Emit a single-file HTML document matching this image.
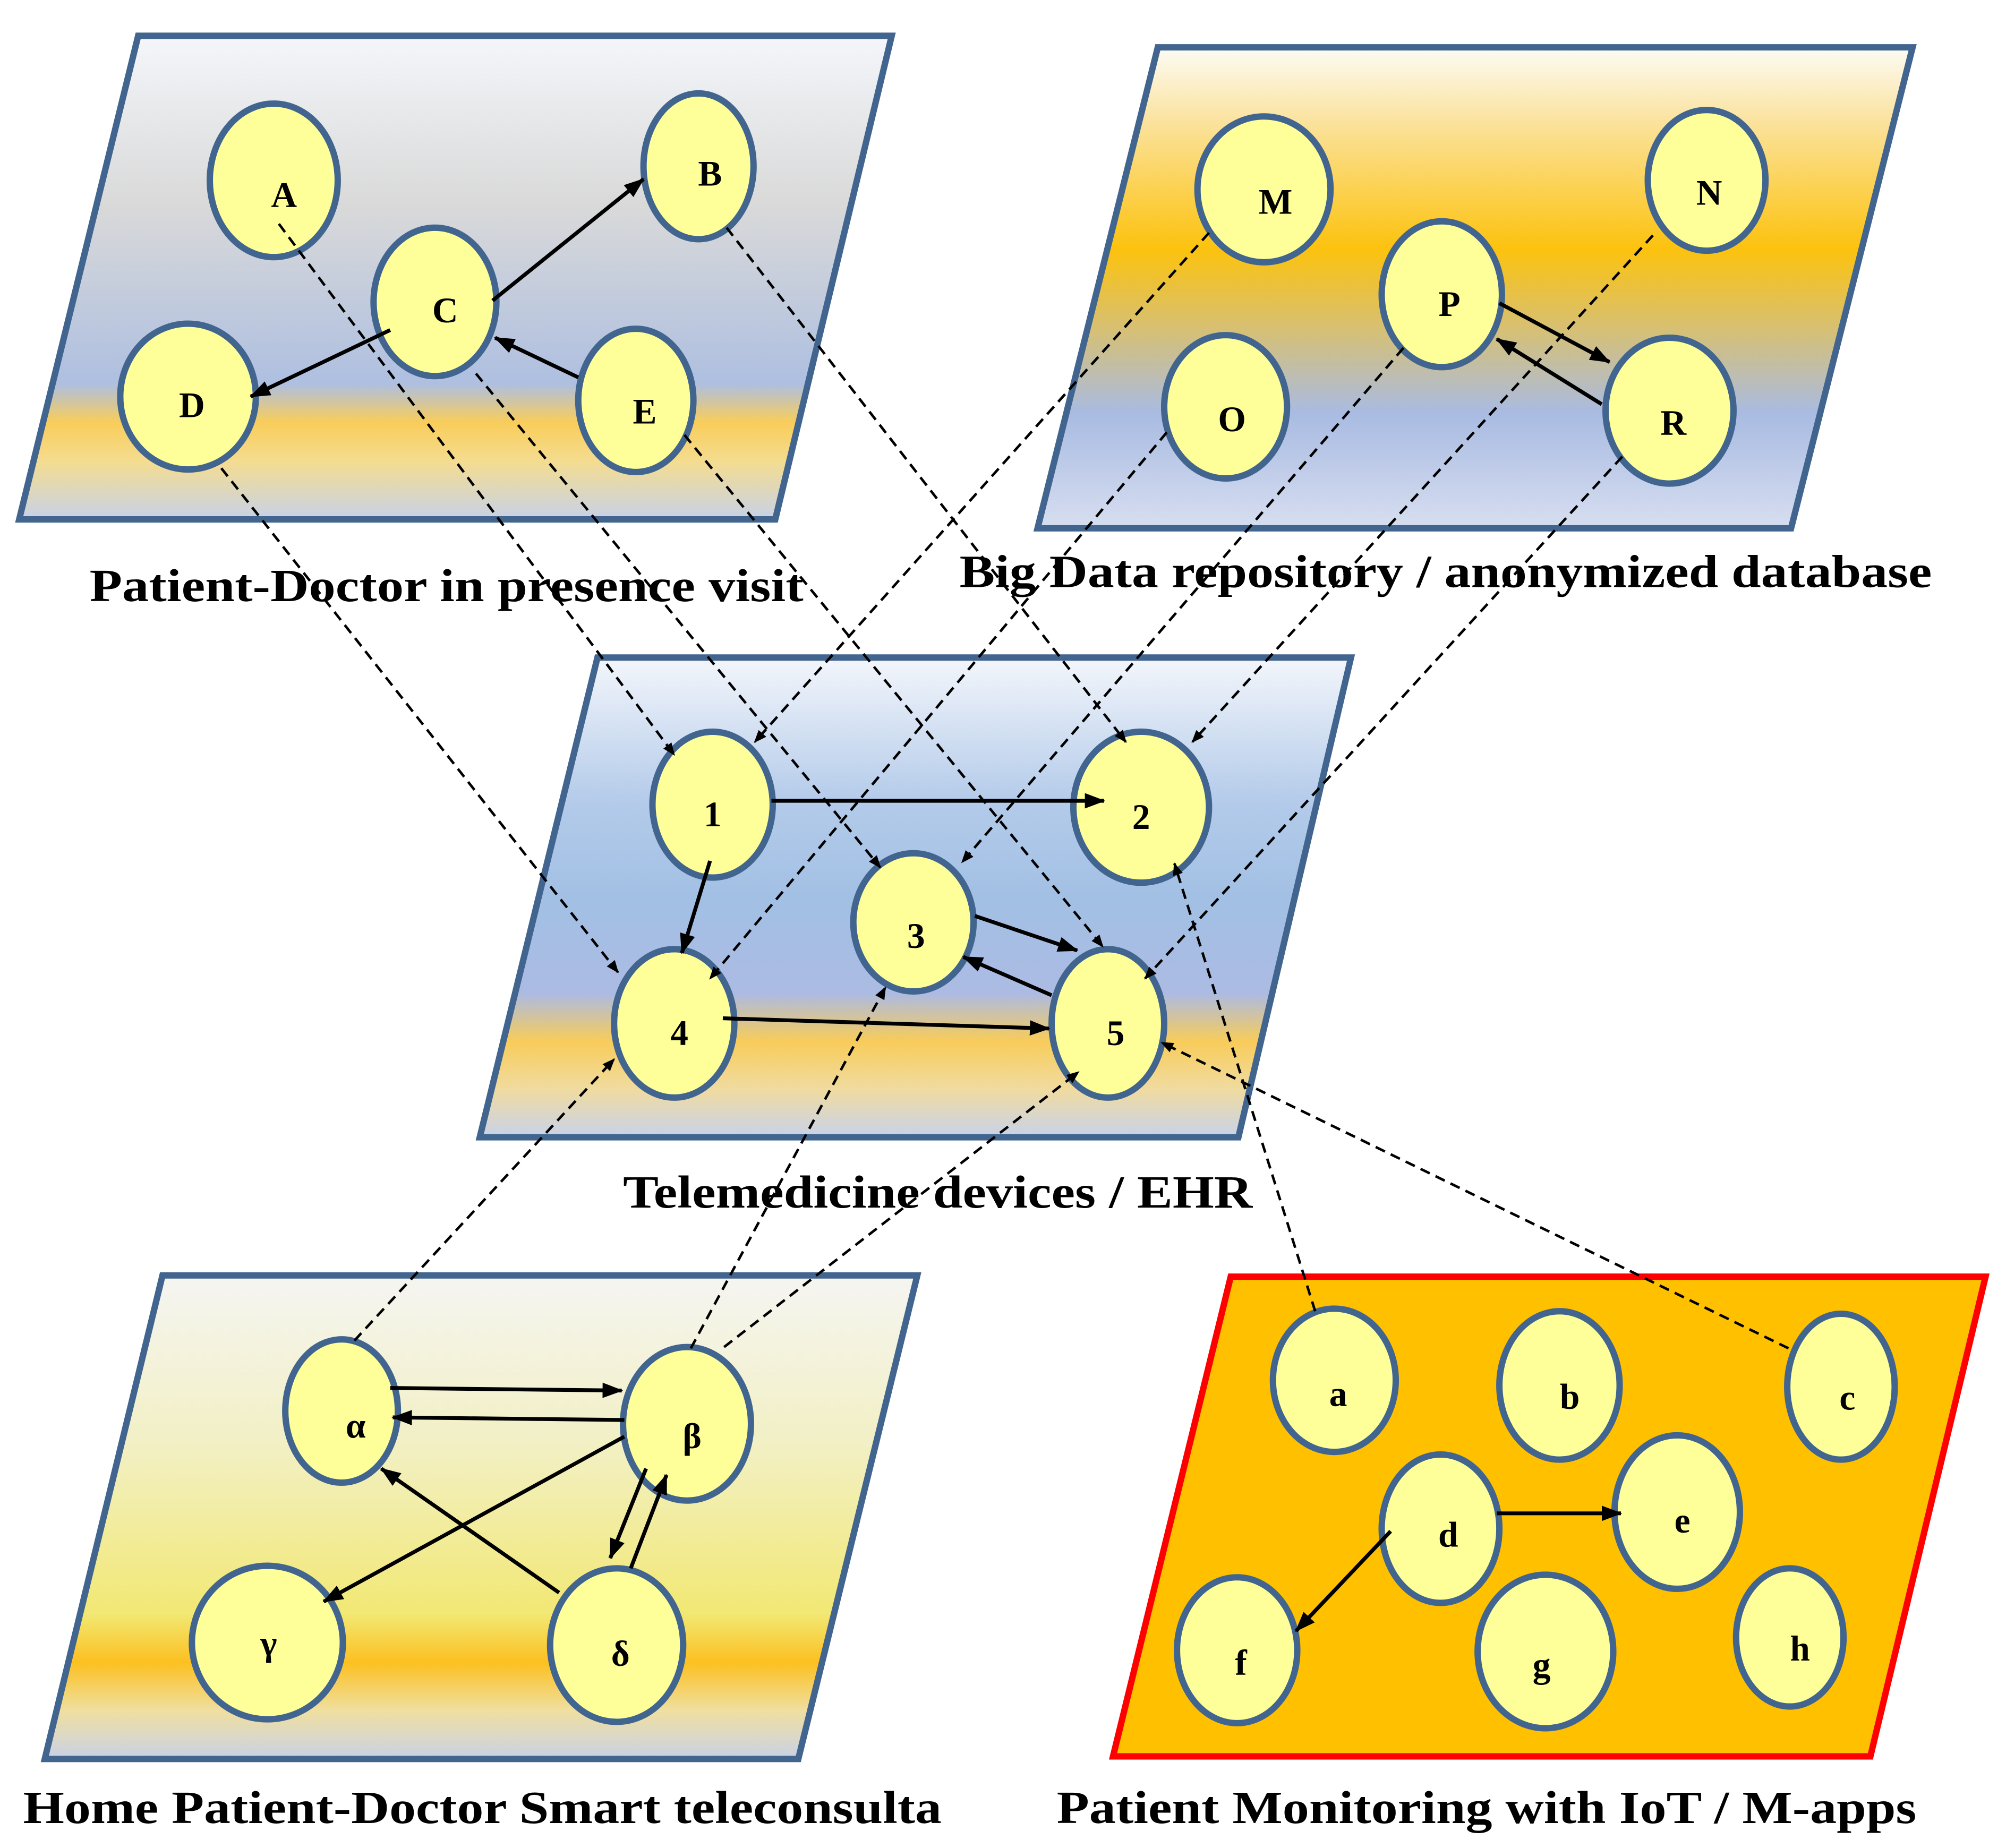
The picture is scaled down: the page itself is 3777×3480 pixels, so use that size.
<!DOCTYPE html>
<html><head><meta charset="utf-8"><style>html,body{margin:0;padding:0;background:#fff}svg{display:block}</style></head>
<body>
<svg width="3777" height="3480" viewBox="0 0 1568 1444.6" preserveAspectRatio="none" xmlns="http://www.w3.org/2000/svg">
<defs>
<marker id="ah" markerWidth="10" markerHeight="8" refX="9" refY="4" orient="auto" markerUnits="userSpaceOnUse" viewBox="0 0 10 8">
<path d="M0,0 L10,4 L0,8 z" fill="#000"/></marker>
<marker id="ah2" markerWidth="16" markerHeight="12" refX="15" refY="6" orient="auto" markerUnits="userSpaceOnUse" viewBox="0 0 16 12">
<path d="M0,0 L16,6 L0,12 z" fill="#000"/></marker>
<linearGradient id="g1" x1="0" y1="0" x2="0" y2="1">
<stop offset="0" stop-color="#f4f6fa"/><stop offset="0.35" stop-color="#d9d9d9"/><stop offset="0.72" stop-color="#aebfe0"/><stop offset="0.8" stop-color="#f9cd5a"/><stop offset="0.88" stop-color="#f4dc90"/><stop offset="1" stop-color="#c8d2e8"/></linearGradient>
<linearGradient id="g2" x1="0" y1="0" x2="0" y2="1">
<stop offset="0" stop-color="#fcfcf5"/><stop offset="0.15" stop-color="#fbe3a0"/><stop offset="0.42" stop-color="#fcc20e"/><stop offset="0.58" stop-color="#d8c070"/><stop offset="0.76" stop-color="#a9bbe2"/><stop offset="1" stop-color="#d7def0"/></linearGradient>
<linearGradient id="g3" x1="0" y1="0" x2="0" y2="1">
<stop offset="0" stop-color="#f3f6fb"/><stop offset="0.3" stop-color="#b4cbea"/><stop offset="0.5" stop-color="#a2c0e4"/><stop offset="0.7" stop-color="#acbbe3"/><stop offset="0.8" stop-color="#f8cc5a"/><stop offset="0.9" stop-color="#f0dba0"/><stop offset="1" stop-color="#c8d2ea"/></linearGradient>
<linearGradient id="g4" x1="0" y1="0" x2="0" y2="1">
<stop offset="0" stop-color="#f5f5f2"/><stop offset="0.35" stop-color="#f2f0c4"/><stop offset="0.7" stop-color="#f2e874"/><stop offset="0.8" stop-color="#fcc020"/><stop offset="0.9" stop-color="#f0dfa0"/><stop offset="1" stop-color="#c9d2e6"/></linearGradient>
</defs>
<g stroke="#41658E" stroke-width="5" stroke-linejoin="miter">
<polygon points="108,28 697,28 606,406 15,406" fill="url(#g1)"/>
<polygon points="905,37 1495,37 1400,413 811,413" fill="url(#g2)"/>
<polygon points="467,514 1056,514 968,889 375,889" fill="url(#g3)"/>
<polygon points="127,997 717,997 624,1375 35,1375" fill="url(#g4)"/>
</g>
<polygon points="962,998 1552,998 1462,1373 870,1373" fill="#FFC000" stroke="#FF0000" stroke-width="5"/>
<g fill="#FFFF99" stroke="#41658E" stroke-width="5">
<ellipse cx="214" cy="141" rx="50" ry="60"/><ellipse cx="546" cy="130" rx="43" ry="57"/><ellipse cx="340" cy="236" rx="48" ry="58"/><ellipse cx="147" cy="310" rx="53" ry="57"/><ellipse cx="497" cy="313" rx="45" ry="56"/>
<ellipse cx="988" cy="148" rx="52" ry="57"/><ellipse cx="1334" cy="141" rx="46" ry="55"/><ellipse cx="1127" cy="230" rx="47" ry="57"/><ellipse cx="958" cy="318" rx="48" ry="56"/><ellipse cx="1305" cy="321" rx="50" ry="57"/>
<ellipse cx="557" cy="629" rx="47" ry="57"/><ellipse cx="892" cy="631" rx="53" ry="59"/><ellipse cx="714" cy="721" rx="47" ry="54"/><ellipse cx="527" cy="800" rx="47" ry="58"/><ellipse cx="866" cy="800" rx="44" ry="58"/>
<ellipse cx="267" cy="1103" rx="44" ry="56"/><ellipse cx="537" cy="1113" rx="50" ry="60"/><ellipse cx="209" cy="1284" rx="59" ry="60"/><ellipse cx="482" cy="1286" rx="52" ry="60"/>
<ellipse cx="1043" cy="1079" rx="48" ry="56"/><ellipse cx="1219" cy="1083" rx="47" ry="58"/><ellipse cx="1439" cy="1084" rx="42" ry="57"/><ellipse cx="1126" cy="1195" rx="46" ry="58"/><ellipse cx="1311" cy="1182" rx="49" ry="60"/><ellipse cx="967" cy="1290" rx="47" ry="57"/><ellipse cx="1208" cy="1291" rx="53" ry="60"/><ellipse cx="1399" cy="1280" rx="42" ry="54"/>
</g>
<g stroke="#000" stroke-width="3" marker-end="url(#ah2)" fill="none">
<line x1="385" y1="235" x2="503" y2="140"/><line x1="305" y1="258" x2="196" y2="310"/><line x1="452" y1="295" x2="387" y2="264"/>
<line x1="1172" y1="237" x2="1258" y2="283"/><line x1="1252" y1="316" x2="1170" y2="265"/>
<line x1="603" y1="626" x2="863" y2="626"/><line x1="555" y1="673" x2="533" y2="745"/><line x1="762" y1="716" x2="842" y2="743"/><line x1="822" y1="778" x2="753" y2="748"/><line x1="565" y1="796" x2="820" y2="804"/>
<line x1="305" y1="1085" x2="486" y2="1087"/><line x1="488" y1="1110" x2="307" y2="1108"/><line x1="488" y1="1123" x2="253" y2="1252"/><line x1="437" y1="1245" x2="298" y2="1148"/><line x1="505" y1="1148" x2="477" y2="1218"/><line x1="493" y1="1226" x2="521" y2="1153"/>
<line x1="1170" y1="1183" x2="1267" y2="1183"/><line x1="1087" y1="1197" x2="1013" y2="1275"/>
</g>
<g stroke="#000" stroke-width="2" stroke-dasharray="8,5" marker-end="url(#ah)" fill="none">
<line x1="218" y1="175" x2="527" y2="590"/><line x1="568" y1="178" x2="880" y2="580"/><line x1="372" y1="292" x2="688" y2="678"/><line x1="173" y1="366" x2="483" y2="760"/><line x1="535" y1="340" x2="862" y2="740"/>
<line x1="945" y1="182" x2="590" y2="580"/><line x1="1292" y1="184" x2="932" y2="580"/><line x1="912" y1="338" x2="555" y2="765"/><line x1="1097" y1="272" x2="752" y2="674"/><line x1="1268" y1="357" x2="895" y2="765"/>
<line x1="277" y1="1048" x2="480" y2="828"/><line x1="540" y1="1054" x2="692" y2="772"/><line x1="566" y1="1053" x2="843" y2="838"/><line x1="1028" y1="1025" x2="918" y2="675"/><line x1="1398" y1="1054" x2="908" y2="815"/>
</g>
<g font-family="'Liberation Serif', serif" font-weight="bold" font-size="28" text-anchor="middle" fill="#000">
<text x="222" y="162">A</text><text x="555" y="145">B</text><text x="348" y="252">C</text><text x="150" y="326">D</text><text x="504" y="331">E</text>
<text x="997" y="167">M</text><text x="1336" y="160">N</text><text x="1133" y="247">P</text><text x="963" y="337">O</text><text x="1308" y="340">R</text>
<text x="557" y="646">1</text><text x="892" y="648">2</text><text x="716" y="741">3</text><text x="531" y="817">4</text><text x="872" y="817">5</text>
<text x="278" y="1124">α</text><text x="541" y="1132">β</text><text x="210" y="1294">γ</text><text x="485" y="1302">δ</text>
<text x="1046" y="1099">a</text><text x="1227" y="1101">b</text><text x="1444" y="1102">c</text><text x="1132" y="1209">d</text><text x="1315" y="1198">e</text><text x="970" y="1309">f</text><text x="1205" y="1311">g</text><text x="1407" y="1298">h</text>
</g>
<g font-family="'Liberation Serif', serif" font-weight="bold" font-size="36" fill="#000">
<text x="70" y="470" textLength="558" lengthAdjust="spacingAndGlyphs">Patient-Doctor in presence visit</text>
<text x="750" y="459" textLength="760" lengthAdjust="spacingAndGlyphs">Big Data repository / anonymized database</text>
<text x="487" y="944" textLength="492" lengthAdjust="spacingAndGlyphs">Telemedicine devices / EHR</text>
<text x="18" y="1425" textLength="718" lengthAdjust="spacingAndGlyphs">Home Patient-Doctor Smart teleconsulta</text>
<text x="826" y="1425" textLength="672" lengthAdjust="spacingAndGlyphs">Patient Monitoring with IoT / M-apps</text>
</g>
</svg>
</body></html>
